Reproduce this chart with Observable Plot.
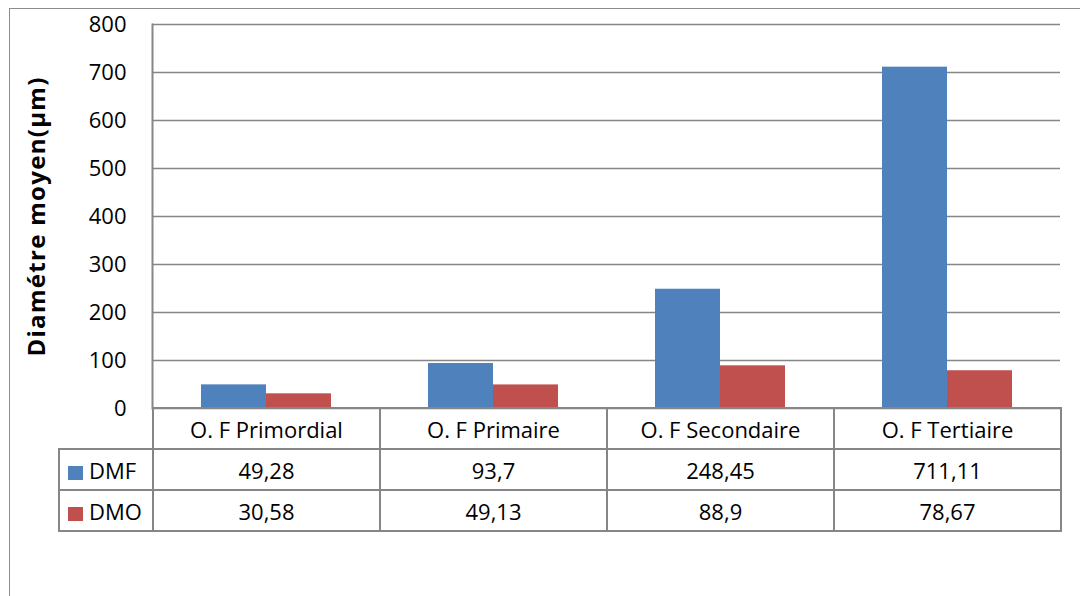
<!DOCTYPE html>
<html>
<head>
<meta charset="utf-8">
<script src="https://cdn.jsdelivr.net/npm/d3@7"></script>
<script src="https://cdn.jsdelivr.net/npm/@observablehq/plot@0.6"></script>
<style>
  html, body { margin: 0; padding: 0; background: #fff; }
  body { width: 1080px; height: 596px; overflow: hidden; position: relative; font-family: "Open Sans", sans-serif; }
  #frame { position: absolute; left: 9px; top: 8px; width: 1200px; height: 700px;
           border-left: 1.5px solid #8c8c8c; border-top: 1.5px solid #8c8c8c; }
  #chart { position: absolute; left: 0; top: 0; }
  #chart g[font-weight="bold"] { letter-spacing: 1.3px; }
  #table { position: absolute; left: 58px; top: 407px; border-collapse: collapse; font-size: 22px; color: #000; }
  #table td { border: 2px solid #868686; height: 39px; padding: 0; text-align: center; }
  #table td.empty { border: none; }
  #table td.key { text-align: left; padding-left: 8px; }
  .swatch { display: inline-block; width: 15px; height: 14px; margin-right: 6px; vertical-align: -1px; }
</style>
</head>
<body>
<div id="frame"></div>
<div id="chart"></div>
<table id="table"></table>
<script>
// Follicle classes along the x axis
const categories = ["O. F Primordial", "O. F Primaire", "O. F Secondaire", "O. F Tertiaire"];
// Series names and their values (µm)
const series = ["DMF", "DMO"];
const dmf = [49.28, 93.7, 248.45, 711.11];
const dmo = [30.58, 49.13, 88.9, 78.67];
const colors = ["#4F81BD", "#C0504D"];
const yTicks = [0, 100, 200, 300, 400, 500, 600, 700, 800];
const yLabel = "Diamétre moyen(µm)";

const values = {DMF: dmf, DMO: dmo};
const rows = categories.flatMap((c, i) => series.map(s => ({cat: c, s, v: values[s][i]})));

const grid = "#868686";

const chart = Plot.plot({
  width: 1080,
  height: 424,
  marginLeft: 152,
  marginRight: 20,
  marginTop: 24,
  marginBottom: 16,
  style: {fontFamily: "'Open Sans', sans-serif", color: "#000", background: "transparent", overflow: "visible"},
  fx: {domain: categories, padding: 0, axis: null, label: null},
  x: {domain: series, paddingInner: 0, paddingOuter: 0.746, axis: null},
  y: {domain: [0, 800], axis: null},
  color: {domain: series, range: colors},
  marks: [
    Plot.gridY(yTicks, {stroke: grid, strokeOpacity: 1, strokeWidth: 1.5}),
    Plot.frame({anchor: "left", stroke: grid, strokeOpacity: 1, strokeWidth: 2, facetAnchor: "left"}),
    Plot.axisY(yTicks, {tickSize: 0, tickPadding: 26, fontSize: 22, label: null, facetAnchor: "left"}),
    Plot.text([yLabel], {frameAnchor: "left", textAnchor: "middle", rotate: -90, dx: -115, fontSize: 24, fontWeight: "bold", facetAnchor: "left"}),
    Plot.barY(rows, {fx: "cat", x: "s", y: "v", fill: "s"})
  ]
});
document.getElementById("chart").append(chart);

// Data table beneath the plot area
const fmt = v => String(v).replace(".", ",");
const table = document.getElementById("table");
const colgroup = document.createElement("colgroup");
colgroup.innerHTML = `<col style="width:94px">` + categories.map(() => `<col style="width:227px">`).join("");
table.append(colgroup);
const head = table.insertRow();
const empty = head.insertCell(); empty.className = "empty";
for (const c of categories) head.insertCell().textContent = c;
series.forEach((s, k) => {
  const tr = table.insertRow();
  const key = tr.insertCell(); key.className = "key";
  key.innerHTML = `<span class="swatch" style="background:${colors[k]}"></span>${s}`;
  for (const v of values[s]) tr.insertCell().textContent = fmt(v);
});
</script>
</body>
</html>
